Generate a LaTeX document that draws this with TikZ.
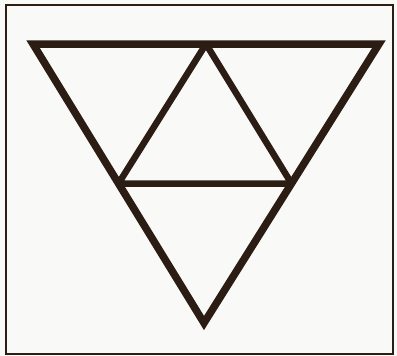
\documentclass[tikz,border=0pt]{standalone}
\usetikzlibrary{calc}
\definecolor{ink}{HTML}{2B1D14}
\definecolor{paper}{HTML}{F9F9F7}
\tikzset{frame/.style={
    draw=ink,
    line width=0.04cm
  },
  tri/.style={draw=ink,line width=0.15cm,line join=miter},
  innertri/.style={tri,line width=0.13cm,line join=bevel},
}

\begin{document}
\begin{tikzpicture}[x=0.02cm,y=-0.02cm]
  \fill[paper] (0,0) rectangle (397,356);
  \useasboundingbox (0,0) rectangle (397,356);
  \draw[frame] (6,5) rectangle (393,354);
  % outer triangle, point down
  \coordinate (topleft) at (33,44);
  \coordinate (topright) at (379,44);
  \coordinate (bottom) at (204,323);
  \draw[tri] (topleft) -- (topright) -- (bottom) -- cycle;
  % inner triangle on the side midpoints
  \coordinate (midtop) at ($(topleft)!0.5!(topright)$);
  \coordinate (midleft) at ($(topleft)!0.5!(bottom)$);
  \coordinate (midright) at ($(topright)!0.5!(bottom)$);
  \draw[innertri] (midtop) -- (midright) -- (midleft) -- cycle;
\end{tikzpicture}
\end{document}
